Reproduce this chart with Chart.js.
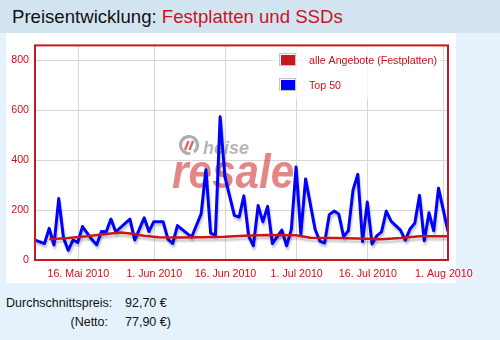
<!doctype html>
<html lang="de">
<head>
<meta charset="utf-8">
<title>Preisentwicklung: Festplatten und SSDs</title>
<script src="https://cdn.jsdelivr.net/npm/chart.js"></script>
<style>
  html, body { margin: 0; padding: 0; }
  body {
    width: 500px; height: 340px; position: relative; overflow: hidden;
    background: #e6f2fb;
    font-family: "Liberation Sans", Arial, sans-serif;
  }
  #head {
    position: absolute; left: 0; top: 0; width: 500px; height: 33px;
    background: #d3e4f1;
  }
  #head h1 {
    position: absolute; left: 12px; top: 6px; margin: 0;
    font-size: 18.6px; font-weight: normal; color: #111; white-space: nowrap;
  }
  #head h1 span { color: #c8141e; }
  #panel {
    position: absolute; left: 6px; top: 33px; width: 450px; height: 250px;
    background: #fff;
  }
  #wrap { position: absolute; left: 0; top: 33px; width: 500px; height: 250px; }
  .row { position: absolute; font-size: 12.5px; line-height: 19px; color: #111; white-space: nowrap; }
</style>
</head>
<body>
<div id="head"><h1>Preisentwicklung: <span>Festplatten und SSDs</span></h1></div>
<div id="panel"></div>
<div id="wrap"><canvas id="chart" width="500" height="250"></canvas></div>
<div class="row" style="left:6px;top:294px">Durchschnittspreis:</div>
<div class="row" style="left:125px;top:294px">92,70 €</div>
<div class="row" style="right:392px;top:313px">(Netto:</div>
<div class="row" style="left:125px;top:313px">77,90 €)</div>

<script>
// Top 50 offers, one sample per day (evening)
const topDates = [
  '2010-05-06', '2010-05-08', '2010-05-09', '2010-05-10', '2010-05-11', '2010-05-12',
  '2010-05-13', '2010-05-14', '2010-05-15', '2010-05-16', '2010-05-18', '2010-05-19',
  '2010-05-20', '2010-05-21', '2010-05-22', '2010-05-23', '2010-05-26', '2010-05-27',
  '2010-05-29', '2010-05-30', '2010-05-31', '2010-06-02', '2010-06-03', '2010-06-04',
  '2010-06-05', '2010-06-08', '2010-06-10', '2010-06-11', '2010-06-12', '2010-06-13',
  '2010-06-14', '2010-06-15', '2010-06-17', '2010-06-18', '2010-06-19', '2010-06-20',
  '2010-06-21', '2010-06-22', '2010-06-23', '2010-06-24', '2010-06-25', '2010-06-27',
  '2010-06-28', '2010-06-29', '2010-06-30', '2010-07-01', '2010-07-02', '2010-07-04',
  '2010-07-05', '2010-07-06', '2010-07-07', '2010-07-08', '2010-07-09', '2010-07-10',
  '2010-07-11', '2010-07-12', '2010-07-13', '2010-07-14', '2010-07-15', '2010-07-16',
  '2010-07-17', '2010-07-18', '2010-07-19', '2010-07-20', '2010-07-22', '2010-07-23',
  '2010-07-24', '2010-07-25', '2010-07-26', '2010-07-27', '2010-07-28', '2010-07-29',
  '2010-07-30', '2010-08-01'
]
const topPrices = [
  80, 66, 127, 60, 246, 89,
  39, 80, 70, 134, 82, 61,
  114, 113, 164, 113, 164, 80,
  169, 114, 153, 153, 84, 66,
  138, 92, 185, 362, 108, 100,
  574, 334, 179, 172, 257, 97,
  57, 218, 153, 215, 66, 120,
  57, 123, 373, 103, 325, 123,
  76, 68, 182, 196, 184, 93,
  117, 281, 343, 74, 232, 64,
  97, 113, 196, 156, 120, 80,
  124, 147, 259, 77, 189, 117,
  288, 114
]

// all offers (hard disks)
const allDates = [
  '2010-05-09', '2010-05-13', '2010-05-17', '2010-05-20', '2010-05-24', '2010-05-26',
  '2010-05-29', '2010-06-01', '2010-06-05', '2010-06-10', '2010-06-15', '2010-06-19',
  '2010-06-24', '2010-06-30', '2010-07-03', '2010-07-08', '2010-07-13', '2010-07-18',
  '2010-07-22', '2010-07-26', '2010-08-01'
]
const allPrices = [
  83, 88, 95, 102, 110, 106,
  97, 91, 90, 91, 93, 97,
  100, 99, 89, 88, 86, 83,
  88, 95, 95
]

const tickDates = ['2010-05-16', '2010-06-01', '2010-06-16', '2010-07-01', '2010-07-16', '2010-08-01']
const tickLabels = ['16. Mai 2010', '1. Jun 2010', '16. Jun 2010', '1. Jul 2010', '16. Jul 2010', '1. Aug 2010']
const yTicks = [0, 200, 400, 600, 800]

const RED = '#c41a1f'
const TEXT_RED = '#cc0f18'
const FONT = '"Liberation Sans", Arial, sans-serif'

// days since 1 May 2010
const start = Date.UTC(2010, 4, 1)
function dayOf(s) {
  const [y, m, d] = s.split('-').map(Number)
  return (Date.UTC(y, m - 1, d) - start) / 864e5
}
const SAMPLE_TIME = 0.875 // prices are taken at 21:00

const toPoints = (dates, prices) => dates.map((d, i) => ({ x: dayOf(d) + SAMPLE_TIME, y: prices[i] }))

const shadow = {
  id: 'shadow',
  beforeDatasetDraw(chart) {
    const ctx = chart.ctx
    ctx.save()
    ctx.shadowColor = 'rgba(0,0,0,0.22)'
    ctx.shadowOffsetX = 1
    ctx.shadowOffsetY = 3
    ctx.shadowBlur = 2
  },
  afterDatasetDraw(chart) {
    chart.ctx.restore()
  }
}

const watermark = {
  id: 'watermark',
  beforeDatasetsDraw(chart) {
    const ctx = chart.ctx
    ctx.save()
    // logo ring
    ctx.strokeStyle = 'rgba(120,120,120,0.6)'
    ctx.lineWidth = 3.2
    ctx.beginPath()
    ctx.arc(189, 112, 8.5, 0.45 * Math.PI, 2.3 * Math.PI)
    ctx.stroke()
    ctx.strokeStyle = 'rgba(205,40,40,0.7)'
    ctx.lineWidth = 2.4
    ctx.beginPath()
    ctx.moveTo(185, 117); ctx.lineTo(188.5, 108)
    ctx.moveTo(189.5, 117); ctx.lineTo(193, 108)
    ctx.stroke()
    ctx.fillStyle = 'rgba(120,120,120,0.55)'
    ctx.font = 'italic bold 18px ' + FONT
    ctx.textBaseline = 'alphabetic'
    ctx.fillText('heise', 203, 121)
    ctx.translate(172, 154.5)
    ctx.scale(0.88, 1)
    ctx.fillStyle = 'rgba(205,35,35,0.55)'
    ctx.font = 'italic bold 48px ' + FONT
    ctx.fillText('resale', 0, 0)
    ctx.restore()
  }
}

const frameAndLegend = {
  id: 'frameAndLegend',
  afterDatasetsDraw(chart) {
    const ctx = chart.ctx
    const a = chart.chartArea
    ctx.save()

    // legend box in the upper right corner
    ctx.fillStyle = 'rgba(255,255,255,0.7)'
    ctx.fillRect(274, 11, 166, 54)
    ctx.font = '10.67px ' + FONT
    ctx.textBaseline = 'middle'
    chart.data.datasets.forEach((ds, i) => {
      const y = 20 + i * 25
      ctx.fillStyle = '#fff'
      ctx.fillRect(280, y, 15, 12)
      ctx.strokeStyle = '#c4c4c4'
      ctx.lineWidth = 1
      ctx.strokeRect(279.5, y + 0.5, 16, 12)
      ctx.fillStyle = ds.borderColor
      ctx.fillRect(281, y + 2, 14, 10)
      ctx.fillStyle = TEXT_RED
      ctx.fillText(ds.label, 309, y + 8)
    })

    ctx.strokeStyle = RED
    ctx.lineWidth = 2
    ctx.strokeRect(a.left, a.top, a.right - a.left, a.bottom - a.top)
    ctx.restore()
  }
}

new Chart(document.getElementById('chart'), {
  type: 'line',
  data: {
    datasets: [
      {
        label: 'alle Angebote (Festplatten)',
        data: toPoints(allDates, allPrices),
        borderColor: '#c8161c',
        borderWidth: 2.5
      },
      {
        label: 'Top 50',
        data: toPoints(topDates, topPrices),
        borderColor: '#0000ff',
        borderWidth: 3
      }
    ]
  },
  options: {
    responsive: false,
    animation: false,
    events: [],
    layout: { padding: { left: 0, top: 9, right: 52, bottom: 0 } },
    elements: {
      line: { tension: 0, borderJoinStyle: 'round' },
      point: { radius: 0 }
    },
    plugins: { legend: { display: false }, tooltip: { enabled: false } },
    scales: {
      x: {
        type: 'linear',
        min: dayOf(topDates[0]) + SAMPLE_TIME,
        max: dayOf(topDates[topDates.length - 1]) + SAMPLE_TIME,
        afterBuildTicks: (s) => { s.ticks = tickDates.map((d) => ({ value: dayOf(d) })) },
        afterFit: (s) => { s.height = 23 },
        border: { display: false },
        grid: { color: '#d6d6d6', drawTicks: false },
        ticks: {
          autoSkip: false,
          maxRotation: 0,
          padding: 8,
          color: TEXT_RED,
          font: { family: FONT, size: 10.67 },
          callback: (v, i) => tickLabels[i]
        }
      },
      y: {
        min: 0,
        max: 860,
        afterBuildTicks: (s) => { s.ticks = yTicks.map((v) => ({ value: v })) },
        afterFit: (s) => { s.width = 35 },
        border: { display: false },
        grid: { color: '#d6d6d6', drawTicks: false },
        ticks: {
          padding: 6,
          color: TEXT_RED,
          font: { family: FONT, size: 10.67 }
        }
      }
    }
  },
  plugins: [shadow, watermark, frameAndLegend]
})
</script>
</body>
</html>
